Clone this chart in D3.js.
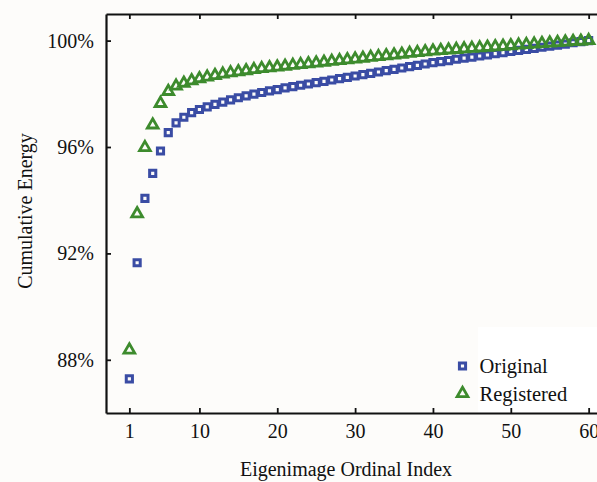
<!DOCTYPE html>
<html>
<head>
<meta charset="utf-8">
<script src="https://cdn.jsdelivr.net/npm/d3@7"></script>
<style>
  html, body { margin: 0; padding: 0; background: #fdfcfa; }
  #chart svg { display: block; }
  text { font-family: "Liberation Serif", "Times New Roman", serif; fill: #111; }
</style>
</head>
<body>
<div id="chart"></div>
<script>
// Cumulative energy of eigenimages, original vs registered

// eigenimage ordinal index (1..60)
const eigenIndex = d3.range(1, 61);

const originalEnergy = [
  87.28, 91.65, 94.07, 95.01, 95.85, 96.54, 96.91, 97.12, 97.29, 97.41,
  97.51, 97.60, 97.69, 97.77, 97.85, 97.92, 97.99, 98.05, 98.11, 98.16,
  98.22, 98.27, 98.32, 98.37, 98.42, 98.47, 98.52, 98.57, 98.62, 98.67,
  98.72, 98.77, 98.82, 98.87, 98.92, 98.97, 99.02, 99.07, 99.12, 99.17,
  99.21, 99.25, 99.30, 99.34, 99.38, 99.42, 99.46, 99.51, 99.55, 99.59,
  99.63, 99.67, 99.71, 99.75, 99.79, 99.83, 99.87, 99.92, 99.96, 100.00
];

const registeredEnergy = [
  88.37, 93.49, 95.98, 96.83, 97.64, 98.09, 98.29, 98.40, 98.49, 98.57,
  98.63, 98.69, 98.74, 98.79, 98.83, 98.87, 98.91, 98.95, 98.98, 99.01,
  99.04, 99.07, 99.10, 99.13, 99.16, 99.19, 99.22, 99.25, 99.28, 99.31,
  99.34, 99.37, 99.40, 99.43, 99.46, 99.49, 99.52, 99.55, 99.58, 99.61,
  99.63, 99.65, 99.67, 99.69, 99.71, 99.73, 99.75, 99.77, 99.79, 99.81,
  99.83, 99.85, 99.87, 99.89, 99.91, 99.93, 99.95, 99.97, 99.98, 100.00
];

const xTicks = [1, 10, 20, 30, 40, 50, 60];
const yTicks = [88, 92, 96, 100];
const seriesNames = ['Original', 'Registered'];

// layout
const W = 597, H = 482;
const margin = { top: 14, left: 106 };
const width = 506;   // right border falls outside the picture
const height = 399;

const svg = d3.select('#chart')
  .append('svg')
  .attr('width', W)
  .attr('height', H);

const g = svg.append('g')
  .attr('transform', `translate(${margin.left},${margin.top})`);

// scales
const x = d3.scaleLinear().domain([-2, 63]).range([0, width]);
const y = d3.scaleLinear().domain([86, 101]).range([height, 0]);

// legend background (white box in lower right)
g.append('rect')
  .attr('x', 372)
  .attr('y', 313)
  .attr('width', 200)
  .attr('height', height - 313)
  .attr('fill', '#ffffff');

// axes
const bottomAxis = g.append('g')
  .attr('transform', `translate(0,${height})`)
  .call(d3.axisBottom(x).tickValues(xTicks).tickSizeInner(-5).tickSizeOuter(0).tickPadding(11));

const topAxis = g.append('g')
  .call(d3.axisTop(x).tickValues(xTicks).tickSizeInner(-5).tickSizeOuter(0).tickFormat(''));

const leftAxis = g.append('g')
  .call(d3.axisLeft(y).tickValues(yTicks).tickSizeInner(-5).tickSizeOuter(0).tickPadding(12)
    .tickFormat(d => d + '%'));

[bottomAxis, topAxis, leftAxis].forEach(a => {
  a.select('.domain').attr('stroke', '#111').attr('stroke-width', 2.2);
  a.selectAll('.tick line').attr('stroke', '#111').attr('stroke-width', 1.8);
  a.selectAll('text')
    .attr('fill', '#111')
    .style('font-family', '"Liberation Serif", "Times New Roman", serif')
    .style('font-size', '20px');
});

// right border (outside of view, kept for the frame)
g.append('line')
  .attr('x1', width).attr('x2', width)
  .attr('y1', 0).attr('y2', height)
  .attr('stroke', '#111').attr('stroke-width', 2.2);

// markers
const squareSym = d3.symbol().type(d3.symbolSquare).size(38);
const triSym = d3.symbol().type(d3.symbolTriangle).size(50);

const blue = '#3a4ca4';
const green = '#3d8b2d';

g.append('g')
  .selectAll('path')
  .data(eigenIndex)
  .join('path')
  .attr('d', squareSym)
  .attr('transform', (d, i) => `translate(${x(d)},${y(originalEnergy[i])})`)
  .attr('fill', 'none')
  .attr('stroke', blue)
  .attr('stroke-width', 3);

g.append('g')
  .selectAll('path')
  .data(eigenIndex)
  .join('path')
  .attr('d', triSym)
  .attr('transform', (d, i) => `translate(${x(d)},${y(registeredEnergy[i])})`)
  .attr('fill', 'none')
  .attr('stroke', green)
  .attr('stroke-width', 2.8);

// legend
const legend = svg.append('g');
const legendSyms = [squareSym, triSym];
const legendColors = [blue, green];

seriesNames.forEach((name, i) => {
  const row = legend.append('g')
    .attr('transform', `translate(462.5,${366 + i * 27.5})`);
  row.append('path')
    .attr('d', legendSyms[i])
    .attr('fill', 'none')
    .attr('stroke', legendColors[i])
    .attr('stroke-width', i === 0 ? 3 : 2.8);
  row.append('text')
    .attr('x', 17)
    .attr('y', 7)
    .style('font-size', '20.5px')
    .text(name);
});

// axis titles
svg.append('text')
  .attr('x', 346)
  .attr('y', 476)
  .attr('text-anchor', 'middle')
  .style('font-size', '20px')
  .text('Eigenimage Ordinal Index');

svg.append('text')
  .attr('transform', 'translate(32,211) rotate(-90)')
  .attr('text-anchor', 'middle')
  .style('font-size', '20px')
  .text('Cumulative Energy');
</script>
</body>
</html>
